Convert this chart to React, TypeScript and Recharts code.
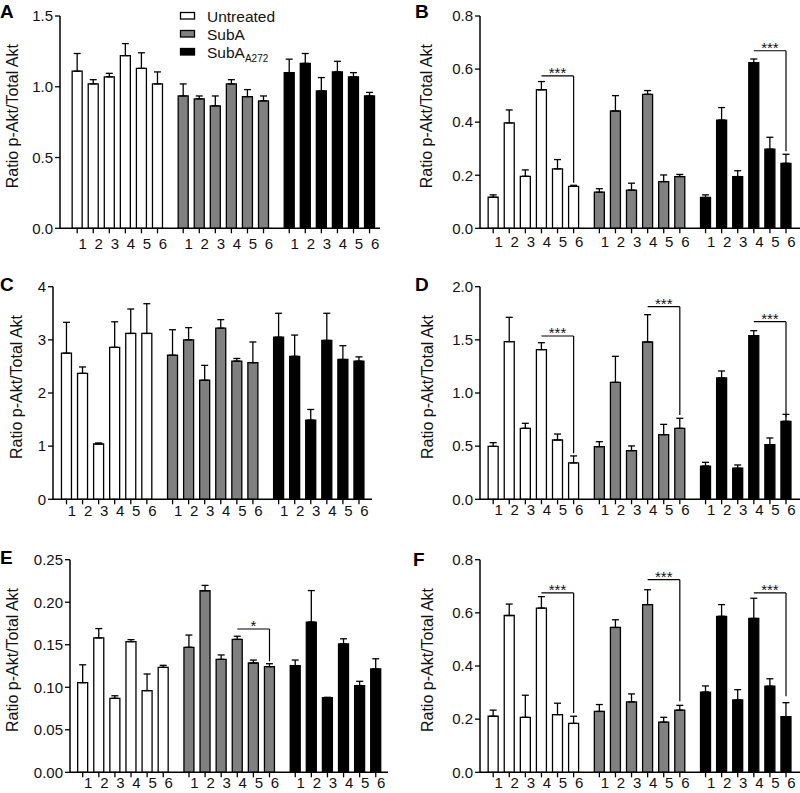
import React from "react";
import { BarChart, Bar, Cell, XAxis, YAxis, ErrorBar, ReferenceLine } from "recharts";

const FONT = "'Liberation Sans', Arial, Helvetica, sans-serif";
const INK = "#111";

const CASES = ["1", "2", "3", "4", "5", "6"];
const GROUP_FILLS = ["#ffffff", "#808080", "#000000"];

// Panel A
const A_UNT = [1.11, 1.02, 1.07, 1.22, 1.13, 1.02];
const A_UNT_SEM = [0.125, 0.03, 0.025, 0.085, 0.11, 0.085];
const A_SUB = [0.935, 0.915, 0.865, 1.02, 0.93, 0.9];
const A_SUB_SEM = [0.085, 0.02, 0.07, 0.03, 0.05, 0.035];
const A_MUT = [1.1, 1.165, 0.97, 1.105, 1.07, 0.935];
const A_MUT_SEM = [0.095, 0.07, 0.095, 0.075, 0.03, 0.025];

// Panel B
const B_UNT = [0.117, 0.397, 0.196, 0.522, 0.224, 0.158];
const B_UNT_SEM = [0.009, 0.049, 0.024, 0.031, 0.035, 0.004];
const B_SUB = [0.136, 0.442, 0.144, 0.505, 0.176, 0.195];
const B_SUB_SEM = [0.013, 0.058, 0.026, 0.014, 0.025, 0.008];
const B_MUT = [0.116, 0.408, 0.195, 0.624, 0.298, 0.245];
const B_MUT_SEM = [0.01, 0.047, 0.022, 0.014, 0.045, 0.034];

// Panel C
const C_UNT = [2.75, 2.37, 1.04, 2.86, 3.12, 3.12];
const C_UNT_SEM = [0.58, 0.12, 0.02, 0.48, 0.46, 0.56];
const C_SUB = [2.71, 3.0, 2.24, 3.22, 2.6, 2.57];
const C_SUB_SEM = [0.48, 0.23, 0.28, 0.16, 0.05, 0.39];
const C_MUT = [3.05, 2.69, 1.49, 2.99, 2.63, 2.6];
const C_MUT_SEM = [0.45, 0.4, 0.2, 0.51, 0.26, 0.08];

// Panel D
const D_UNT = [0.498, 1.483, 0.668, 1.408, 0.558, 0.342];
const D_UNT_SEM = [0.035, 0.229, 0.047, 0.065, 0.056, 0.066];
const D_SUB = [0.495, 1.1, 0.458, 1.48, 0.608, 0.668];
const D_SUB_SEM = [0.047, 0.245, 0.044, 0.257, 0.097, 0.094];
const D_MUT = [0.313, 1.141, 0.292, 1.539, 0.514, 0.734];
const D_MUT_SEM = [0.035, 0.066, 0.031, 0.047, 0.063, 0.065];

// Panel E
const E_UNT = [0.1054, 0.158, 0.087, 0.1536, 0.096, 0.1234];
const E_UNT_SEM = [0.021, 0.011, 0.003, 0.0024, 0.0196, 0.0024];
const E_SUB = [0.147, 0.2135, 0.1328, 0.1563, 0.1285, 0.1242];
const E_SUB_SEM = [0.0144, 0.0063, 0.0052, 0.0037, 0.0035, 0.0035];
const E_MUT = [0.1254, 0.1767, 0.0877, 0.151, 0.102, 0.1215];
const E_MUT_SEM = [0.0066, 0.037, 0.0005, 0.006, 0.005, 0.012];

// Panel F
const F_UNT = [0.211, 0.59, 0.207, 0.618, 0.217, 0.184];
const F_UNT_SEM = [0.023, 0.043, 0.083, 0.043, 0.043, 0.027];
const F_SUB = [0.229, 0.545, 0.265, 0.631, 0.189, 0.234];
const F_SUB_SEM = [0.026, 0.029, 0.03, 0.056, 0.018, 0.018];
const F_MUT = [0.302, 0.587, 0.272, 0.579, 0.324, 0.209];
const F_MUT_SEM = [0.023, 0.044, 0.039, 0.076, 0.028, 0.053];

// significance brackets: bar 4 -> bar 6 inside a group
const B_SIG = [
  { group: 0, top: 0.574, end: 0.172, mark: "***" },
  { group: 2, top: 0.669, end: 0.29, mark: "***" },
];
const D_SIG = [
  { group: 0, top: 1.536, end: 0.433, mark: "***" },
  { group: 1, top: 1.812, end: 0.793, mark: "***" },
  { group: 2, top: 1.671, end: 0.777, mark: "***" },
];
const E_SIG = [{ group: 1, top: 0.1685, end: 0.1305, mark: "*" }];
const F_SIG = [
  { group: 0, top: 0.675, end: 0.223, mark: "***" },
  { group: 1, top: 0.725, end: 0.267, mark: "***" },
  { group: 2, top: 0.675, end: 0.286, mark: "***" },
];

const GROUP_STEP = 6.6; // spacing between the three groups, in bar pitches

type Sig = { group: number; top: number; end: number; mark: string };

function buildRows(means: number[][], sems: number[][]) {
  return means.flatMap((series, g) =>
    series.map((v, i) => ({ pos: g * GROUP_STEP + i, value: v, err: [0, sems[g][i]], group: g })),
  );
}

const XTick = (props: any) => {
  const { x, y, index } = props;
  return (
    <text x={x + 5.5} y={y} dy="0.71em" textAnchor="middle" fontSize={15} fontFamily={FONT} fill={INK}>
      {CASES[index % CASES.length]}
    </text>
  );
};

const YTitle = (props: any) => {
  const { viewBox, dist } = props;
  const x = viewBox.x + viewBox.width - dist;
  const y = viewBox.y + viewBox.height / 2 - 6;
  return (
    <text
      x={x}
      y={y}
      transform={`rotate(-90, ${x}, ${y})`}
      textAnchor="middle"
      dominantBaseline="central"
      fontSize={16}
      fontFamily={FONT}
      fill={INK}
    >
      Ratio p-Akt/Total Akt
    </text>
  );
};

type PanelCfg = {
  letter: string;
  left: number;
  top: number;
  width: number;
  height: number;
  yw: number;
  mr: number;
  plotTop: number;
  plotBottom: number;
  xDomain: [number, number];
  yTicks: number[];
  dec: number;
  titleDist: number;
  labelGap: number;
  letterX: number;
  letterY: number;
};

function Panel({ cfg, rows, sigs = [] }: { cfg: PanelCfg; rows: ReturnType<typeof buildRows>; sigs?: Sig[] }) {
  const xh = 20;
  const yMax = cfg.yTicks[cfg.yTicks.length - 1];
  return (
    <div style={{ position: "absolute", left: cfg.left, top: cfg.top, width: cfg.width, height: cfg.height }}>
      <BarChart
        width={cfg.width}
        height={cfg.height}
        data={rows}
        margin={{ top: cfg.plotTop, right: cfg.mr, bottom: cfg.height - cfg.plotBottom - xh, left: 0 }}
      >
        <XAxis
          type="number"
          dataKey="pos"
          domain={cfg.xDomain}
          allowDataOverflow
          ticks={rows.map((r) => r.pos)}
          interval={0}
          height={xh}
          tickSize={5}
          tickMargin={cfg.labelGap - 5}
          axisLine={{ stroke: "#000", strokeWidth: 1.5 }}
          tickLine={{ stroke: "#000", strokeWidth: 1.3 }}
          tick={<XTick />}
        />
        <YAxis
          type="number"
          domain={[0, yMax]}
          allowDataOverflow
          ticks={cfg.yTicks}
          interval={0}
          width={cfg.yw}
          tickSize={5}
          tickMargin={2}
          axisLine={{ stroke: "#000", strokeWidth: 1.5 }}
          tickLine={{ stroke: "#000", strokeWidth: 1.3 }}
          tick={{ fontSize: 15, fontFamily: FONT, fill: INK }}
          tickFormatter={(v: number) => v.toFixed(cfg.dec)}
          label={<YTitle dist={cfg.titleDist} />}
        />
        <Bar dataKey="value" barSize={10} stroke="#000" strokeWidth={1.3} isAnimationActive={false}>
          {rows.map((r) => (
            <Cell key={r.pos} fill={GROUP_FILLS[r.group]} />
          ))}
          <ErrorBar dataKey="err" direction="y" width={3.5} stroke="#000" strokeWidth={1.3} isAnimationActive={false} />
        </Bar>
        {sigs.map((s) => {
          const p4 = s.group * GROUP_STEP + 3;
          const p6 = s.group * GROUP_STEP + 5;
          return (
            <ReferenceLine
              key={`h${s.group}`}
              segment={[
                { x: p4, y: s.top },
                { x: p6, y: s.top },
              ]}
              stroke="#000"
              strokeWidth={1.2}
              label={{ value: s.mark, position: "top", offset: -2, fontSize: 15, fontFamily: FONT, fill: INK }}
            />
          );
        })}
        {sigs.map((s) => {
          const p6 = s.group * GROUP_STEP + 5;
          return (
            <ReferenceLine
              key={`v${s.group}`}
              segment={[
                { x: p6, y: s.top },
                { x: p6, y: s.end },
              ]}
              stroke="#000"
              strokeWidth={1.2}
            />
          );
        })}
      </BarChart>
      <div
        style={{
          position: "absolute",
          left: cfg.letterX,
          top: cfg.letterY,
          fontFamily: FONT,
          fontWeight: "bold",
          fontSize: 19,
          lineHeight: "19px",
          color: "#000",
        }}
      >
        {cfg.letter}
      </div>
    </div>
  );
}

const LEGEND_ITEMS = ["Untreated", "SubA", "SubA"];
const LEGEND_SUB = ["", "", "A272"];

function LegendBox() {
  const baselines = [21.5, 39.5, 57.5];
  return (
    <svg style={{ position: "absolute", left: 175, top: 0 }} width={130} height={70}>
      {LEGEND_ITEMS.map((name, i) => (
        <g key={i}>
          <rect x={5.5} y={baselines[i] - 9} width={14} height={6.5} fill={GROUP_FILLS[i]} stroke="#000" strokeWidth={1.3} />
          <text x={32} y={baselines[i]} fontSize={15.5} fontFamily={FONT} fill={INK}>
            {name}
            {LEGEND_SUB[i] && (
              <tspan fontSize={10} dy={4}>
                {LEGEND_SUB[i]}
              </tspan>
            )}
          </text>
        </g>
      ))}
    </svg>
  );
}

const PANEL_A: PanelCfg = { letter: "A", left: 0, top: 0, width: 390, height: 265, yw: 60, mr: 10, plotTop: 16, plotBottom: 228.3, xDomain: [-1.07, 18.85], yTicks: [0, 0.5, 1, 1.5], dec: 1, titleDist: 47.5, labelGap: 10, letterX: 0, letterY: 2 };
const PANEL_B: PanelCfg = { letter: "B", left: 400, top: 0, width: 400, height: 265, yw: 80, mr: 0, plotTop: 16, plotBottom: 228.3, xDomain: [-0.82, 19.07], yTicks: [0, 0.2, 0.4, 0.6, 0.8], dec: 1, titleDist: 53, labelGap: 8, letterX: 15, letterY: 2 };
const PANEL_C: PanelCfg = { letter: "C", left: 0, top: 265, width: 380, height: 263, yw: 53, mr: 8, plotTop: 21.7, plotBottom: 234.3, xDomain: [-0.84, 19.01], yTicks: [0, 1, 2, 3, 4], dec: 0, titleDist: 37, labelGap: 6, letterX: 0, letterY: 10 };
const PANEL_D: PanelCfg = { letter: "D", left: 400, top: 265, width: 400, height: 263, yw: 80, mr: 0, plotTop: 21.7, plotBottom: 234.3, xDomain: [-0.82, 19.07], yTicks: [0, 0.5, 1, 1.5, 2], dec: 1, titleDist: 52.5, labelGap: 5, letterX: 15, letterY: 10 };
const PANEL_E: PanelCfg = { letter: "E", left: 0, top: 528, width: 400, height: 265, yw: 70, mr: 12, plotTop: 31.7, plotBottom: 244.3, xDomain: [-0.79, 18.96], yTicks: [0, 0.05, 0.1, 0.15, 0.2, 0.25], dec: 2, titleDist: 57.5, labelGap: 5, letterX: 0, letterY: 20 };
const PANEL_F: PanelCfg = { letter: "F", left: 400, top: 528, width: 400, height: 265, yw: 80, mr: 0, plotTop: 31.7, plotBottom: 244.3, xDomain: [-0.82, 19.07], yTicks: [0, 0.2, 0.4, 0.6, 0.8], dec: 1, titleDist: 53, labelGap: 5, letterX: 13, letterY: 22 };

export default function App() {
  return (
    <div style={{ position: "absolute", left: 0, top: 0, width: 800, height: 793, background: "#fff", overflow: "hidden" }}>
      <Panel cfg={PANEL_A} rows={buildRows([A_UNT, A_SUB, A_MUT], [A_UNT_SEM, A_SUB_SEM, A_MUT_SEM])} />
      <Panel cfg={PANEL_B} rows={buildRows([B_UNT, B_SUB, B_MUT], [B_UNT_SEM, B_SUB_SEM, B_MUT_SEM])} sigs={B_SIG} />
      <Panel cfg={PANEL_C} rows={buildRows([C_UNT, C_SUB, C_MUT], [C_UNT_SEM, C_SUB_SEM, C_MUT_SEM])} />
      <Panel cfg={PANEL_D} rows={buildRows([D_UNT, D_SUB, D_MUT], [D_UNT_SEM, D_SUB_SEM, D_MUT_SEM])} sigs={D_SIG} />
      <Panel cfg={PANEL_E} rows={buildRows([E_UNT, E_SUB, E_MUT], [E_UNT_SEM, E_SUB_SEM, E_MUT_SEM])} sigs={E_SIG} />
      <Panel cfg={PANEL_F} rows={buildRows([F_UNT, F_SUB, F_MUT], [F_UNT_SEM, F_SUB_SEM, F_MUT_SEM])} sigs={F_SIG} />
      <LegendBox />
    </div>
  );
}
